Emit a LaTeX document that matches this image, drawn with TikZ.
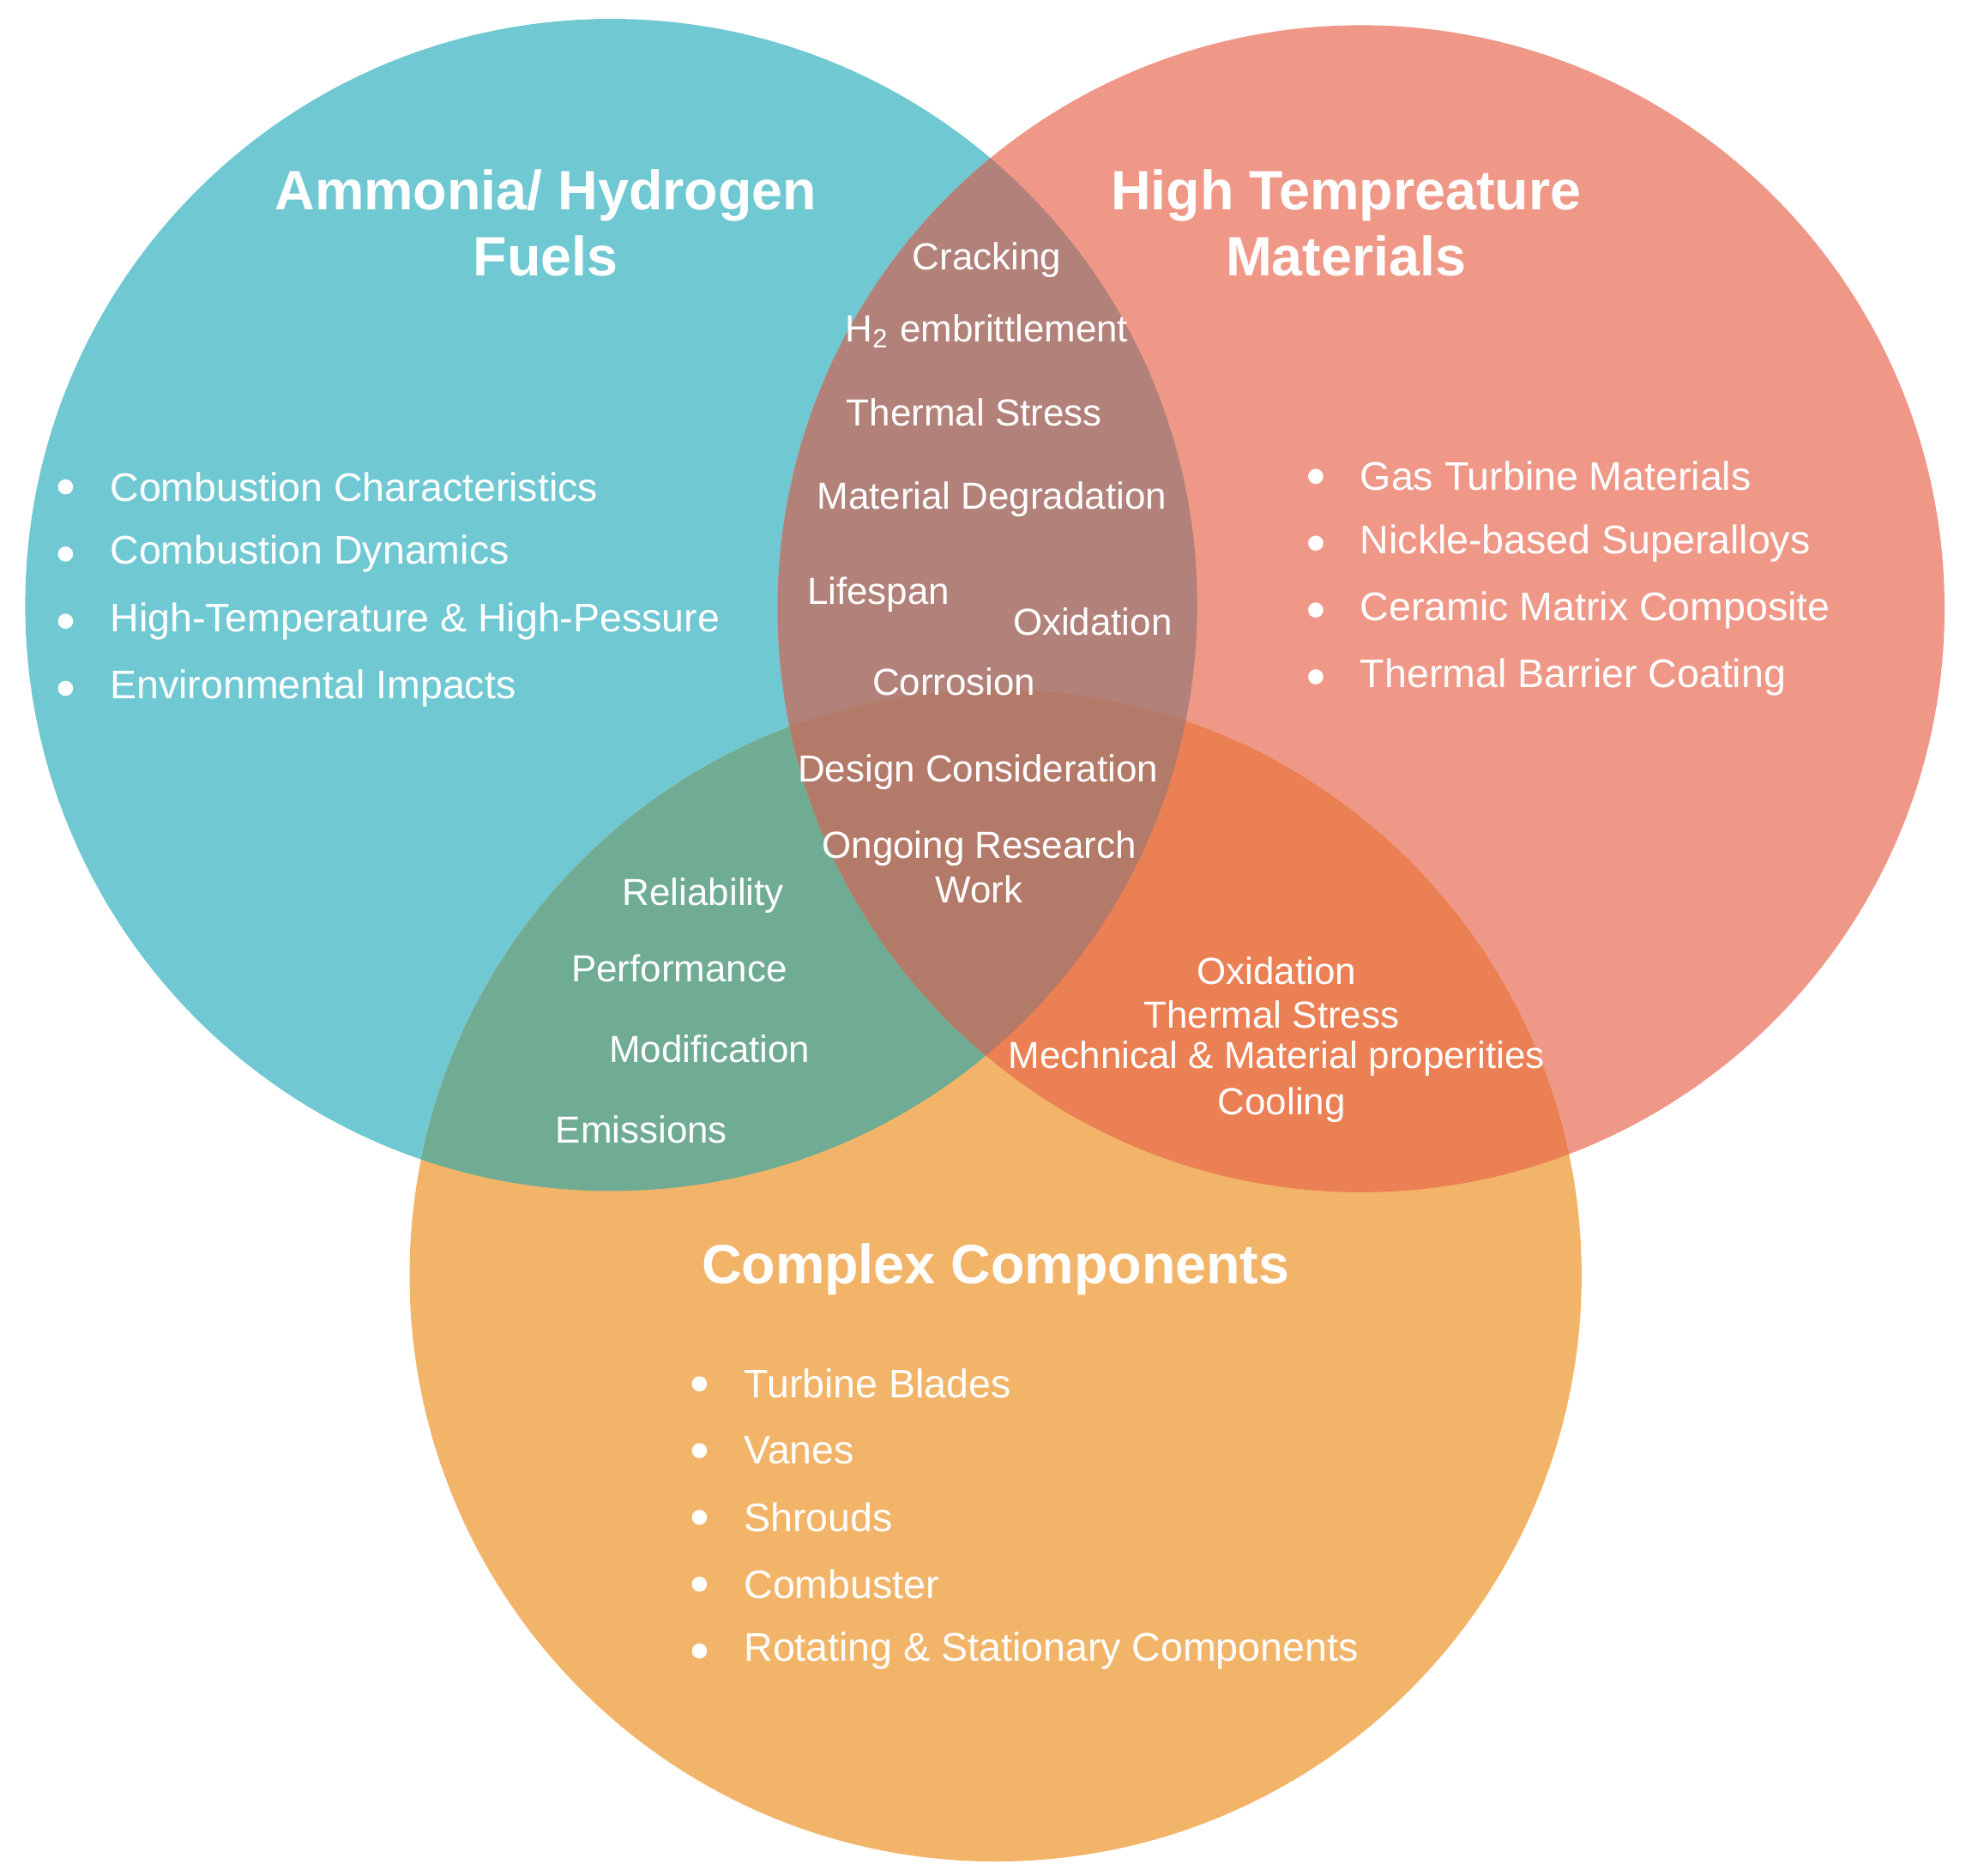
\documentclass[tikz,border=0pt]{standalone}
\usepackage{fontspec}
\setmainfont{Liberation Sans}
\usetikzlibrary{positioning}
\definecolor{fuelc}{RGB}{112,200,210}
\definecolor{matc}{RGB}{239,152,136}
\definecolor{compc}{RGB}{242,180,104}
\definecolor{fmc}{RGB}{178,130,122}
\definecolor{fcc}{RGB}{112,172,148}
\definecolor{mcc}{RGB}{236,128,85}
\definecolor{allc}{RGB}{180,122,105}
\begin{document}
\begin{tikzpicture}[x=0.01cm,y=-0.01cm,
%heading text
headnode/.style={text=white, font=\fontsize{12.5}{15}\selectfont\bfseries, align=center},
%bullet list text
listnode/.style={text=white, font=\fontsize{9}{11}\selectfont, anchor=west},
%overlap text
overnode/.style={text=white, font=\fontsize{8.5}{10}\selectfont, align=center},
dot/.style={circle, fill=white, minimum size=1.2mm, inner sep=0mm, outer sep=0mm}
]
\useasboundingbox (0,0) rectangle (1560,1488);
\def\fuelcirc{(485,480) circle (465)}
\def\matcirc{(1080,483) circle (463)}
\def\compcirc{(790,1012) circle (465)}

% circles
\fill[fuelc] \fuelcirc;
\fill[matc] \matcirc;
\fill[compc] \compcirc;
% overlaps
\begin{scope}\clip \fuelcirc; \fill[fmc] \matcirc; \end{scope}
\begin{scope}\clip \fuelcirc; \fill[fcc] \compcirc; \end{scope}
\begin{scope}\clip \matcirc; \fill[mcc] \compcirc; \end{scope}
\begin{scope}\clip \fuelcirc; \clip \matcirc; \fill[allc] \compcirc; \end{scope}

% headings
\node[headnode] (fuel) at (433,177) {Ammonia/ Hydrogen\\Fuels};
\node[headnode] (mat) at (1068,177) {High Tempreature\\Materials};
\node[headnode] (comp) at (790,1007) {Complex Components};

% fuel list
\foreach \t [count=\i] in {Combustion Characteristics, Combustion Dynamics,
  High-Temperature \& High-Pessure, Environmental Impacts}{
  \node[dot] (fd\i) at (52,333+53.3*\i) {};
  \node[listnode] (fl\i) at (75,333+53.3*\i) {\t};
}
% material list
\foreach \t [count=\i] in {Gas Turbine Materials, Nickle-based Superalloys,
  Ceramic Matrix Composite, Thermal Barrier Coating}{
  \node[dot] (md\i) at (1044,325+53*\i) {};
  \node[listnode] (ml\i) at (1067,325+53*\i) {\t};
}
% component list
\foreach \t [count=\i] in {Turbine Blades, Vanes, Shrouds, Combuster,
  Rotating \& Stationary Components}{
  \node[dot] (cd\i) at (555,1045+53*\i) {};
  \node[listnode] (cl\i) at (578,1045+53*\i) {\t};
}

% fuel and materials
\node[overnode] (crack) at (783,206) {Cracking};
\node[overnode] (embr) at (783,263) {H\textsubscript{2} embrittlement};
\node[overnode] (tstress) at (773,327) {Thermal Stress};
\node[overnode] (degr) at (787,396) {Material Degradation};
\node[overnode] (life) at (697,472) {Lifespan};
\node[overnode] (oxid) at (867,493) {Oxidation};
\node[overnode] (corr) at (757,541) {Corrosion};
% all three
\node[overnode] (design) at (776,613) {Design Consideration};
\node[overnode] (research) at (777,688) {Ongoing Research\\Work};
% fuel and components
\node[overnode] (rel) at (558,711) {Reliability};
\node[overnode] (perf) at (539,768) {Performance};
\node[overnode] (modif) at (563,832) {Modification};
\node[overnode] (emis) at (509,896) {Emissions};
% materials and components
\node[overnode] (oxid2) at (1013,770) {Oxidation};
\node[overnode] (tstress2) at (1009,805) {Thermal Stress};
\node[overnode] (mech) at (1013,840) {Mechnical \& Material properities};
\node[overnode] (cool) at (1017,877) {Cooling};
\end{tikzpicture}
\end{document}
